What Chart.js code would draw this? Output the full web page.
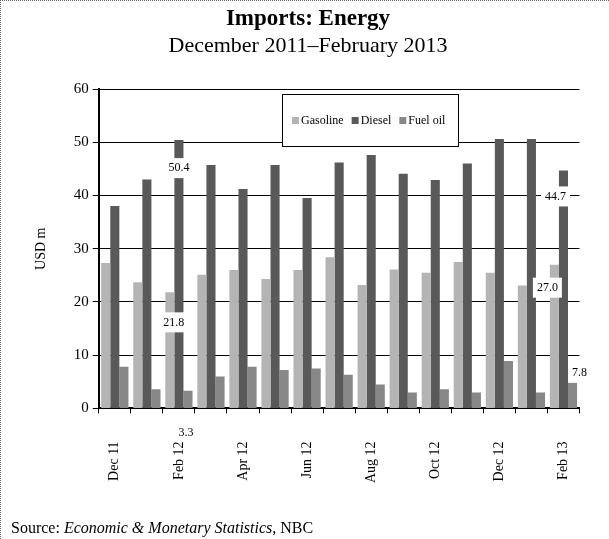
<!DOCTYPE html>
<html><head><meta charset="utf-8">
<script src="https://cdn.jsdelivr.net/npm/chart.js@4/dist/chart.umd.min.js"></script>
<style>
html,body{margin:0;padding:0;background:#fff;}
#wrap{position:relative;width:609px;height:539px;border-left:1px dotted #666;border-top:1px dotted #666;box-sizing:border-box;}
#src{position:absolute;left:10px;top:518px;font:16px "Liberation Serif",serif;}
</style></head><body>
<div id="wrap"><canvas id="c" width="608" height="538"></canvas>
<div id="src">Source: <i>Economic &amp; Monetary Statistics</i>, NBC</div></div>
<script>
const categories=["Dec 11","Jan 12","Feb 12","Mar 12","Apr 12","May 12","Jun 12","Jul 12","Aug 12","Sep 12","Oct 12","Nov 12","Dec 12","Jan 13","Feb 13"];
const gasoline=[27.3,23.7,21.8,25.1,26.0,24.3,26.0,28.4,23.2,26.1,25.5,27.5,25.5,23.1,27.0];
const diesel=[38.0,43.0,50.4,45.7,41.2,45.7,39.5,46.2,47.6,44.1,42.9,46.0,50.6,50.6,44.7];
const fuelOil=[7.8,3.6,3.3,6.0,7.8,7.2,7.5,6.3,4.5,3.0,3.6,3.0,8.9,3.0,7.8];
const yTicks=[0,10,20,30,40,50,60];
const labels=[{ds:1,i:2,dy:28},{ds:0,i:2,dy:30,dx:4},{ds:2,i:2,dy:42,dx:-2,h:14},{ds:1,i:14,dy:26,dx:-8},{ds:0,i:14,dy:23,dx:-7},{ds:2,i:14,dy:6,dx:7}];
const F='"Liberation Serif", "Times New Roman", serif';
const plug={id:'extra',afterDraw(ch){
 const c=ch.ctx;c.save();
 const x0=281,y0=93,w=176,h=52;
 c.fillStyle='#fff';c.fillRect(x0,y0,w,h);
 c.strokeStyle='#000';c.lineWidth=1;c.strokeRect(x0+.5,y0+.5,w,h);
 c.font='12px '+F;c.textBaseline='middle';
 let lx=x0+10;const ly=y0+27;
 ch.data.datasets.forEach(d=>{c.fillStyle=d.backgroundColor;c.fillRect(lx,ly-4,7,7);c.fillStyle='#000';c.fillText(d.label,lx+9,ly);lx+=c.measureText(d.label).width+17;});
 c.font='12px '+F;c.textAlign='center';
 labels.forEach(L=>{const el=ch.getDatasetMeta(L.ds).data[L.i];const v=ch.data.datasets[L.ds].data[L.i];
  const x=el.x+(L.dx||0),y=el.y+L.dy;const t=v.toFixed(1);const tw=c.measureText(t).width+8;const bh=L.h||20;
  c.fillStyle='#fff';c.fillRect(x-tw/2,y-bh/2,tw,bh);c.fillStyle='#000';c.fillText(t,x,y);});
 c.restore();}};
new Chart(document.getElementById('c'),{type:'bar',
 data:{labels:categories,datasets:[
  {label:'Gasoline',data:gasoline,backgroundColor:'#b4b4b4'},
  {label:'Diesel',data:diesel,backgroundColor:'#595959'},
  {label:'Fuel oil',data:fuelOil,backgroundColor:'#888888'}]},
 options:{responsive:false,animation:false,
  layout:{padding:{left:28,right:22,top:0,bottom:28}},
  datasets:{bar:{categoryPercentage:0.85,barPercentage:1}},
  plugins:{legend:{display:false},tooltip:{enabled:false},
   title:{display:true,text:'Imports: Energy',color:'#000',font:{family:F,size:23,weight:'bold'},padding:{top:4,bottom:0}},
   subtitle:{display:true,text:'December 2011–February 2013',color:'#000',font:{family:F,size:22},padding:{top:0,bottom:30}}},
  scales:{
   x:{grid:{display:true,drawOnChartArea:false,offset:true,color:'#000',tickLength:5},border:{color:'#000',width:2},
    ticks:{color:'#000',font:{family:F,size:14},padding:28,maxRotation:90,minRotation:90,autoSkip:false,callback:(v,i)=>i%2===0?categories[i]:''}},
   y:{min:0,max:60,afterBuildTicks:a=>{a.ticks=yTicks.map(v=>({value:v}));},
    grid:{color:'#000',tickLength:6},border:{color:'#000',width:2},
    ticks:{color:'#000',font:{family:F,size:15},padding:4},
    title:{display:true,text:'USD m',color:'#000',font:{family:F,size:14},padding:{bottom:20}}}}},
 plugins:[plug]});
</script></body></html>
